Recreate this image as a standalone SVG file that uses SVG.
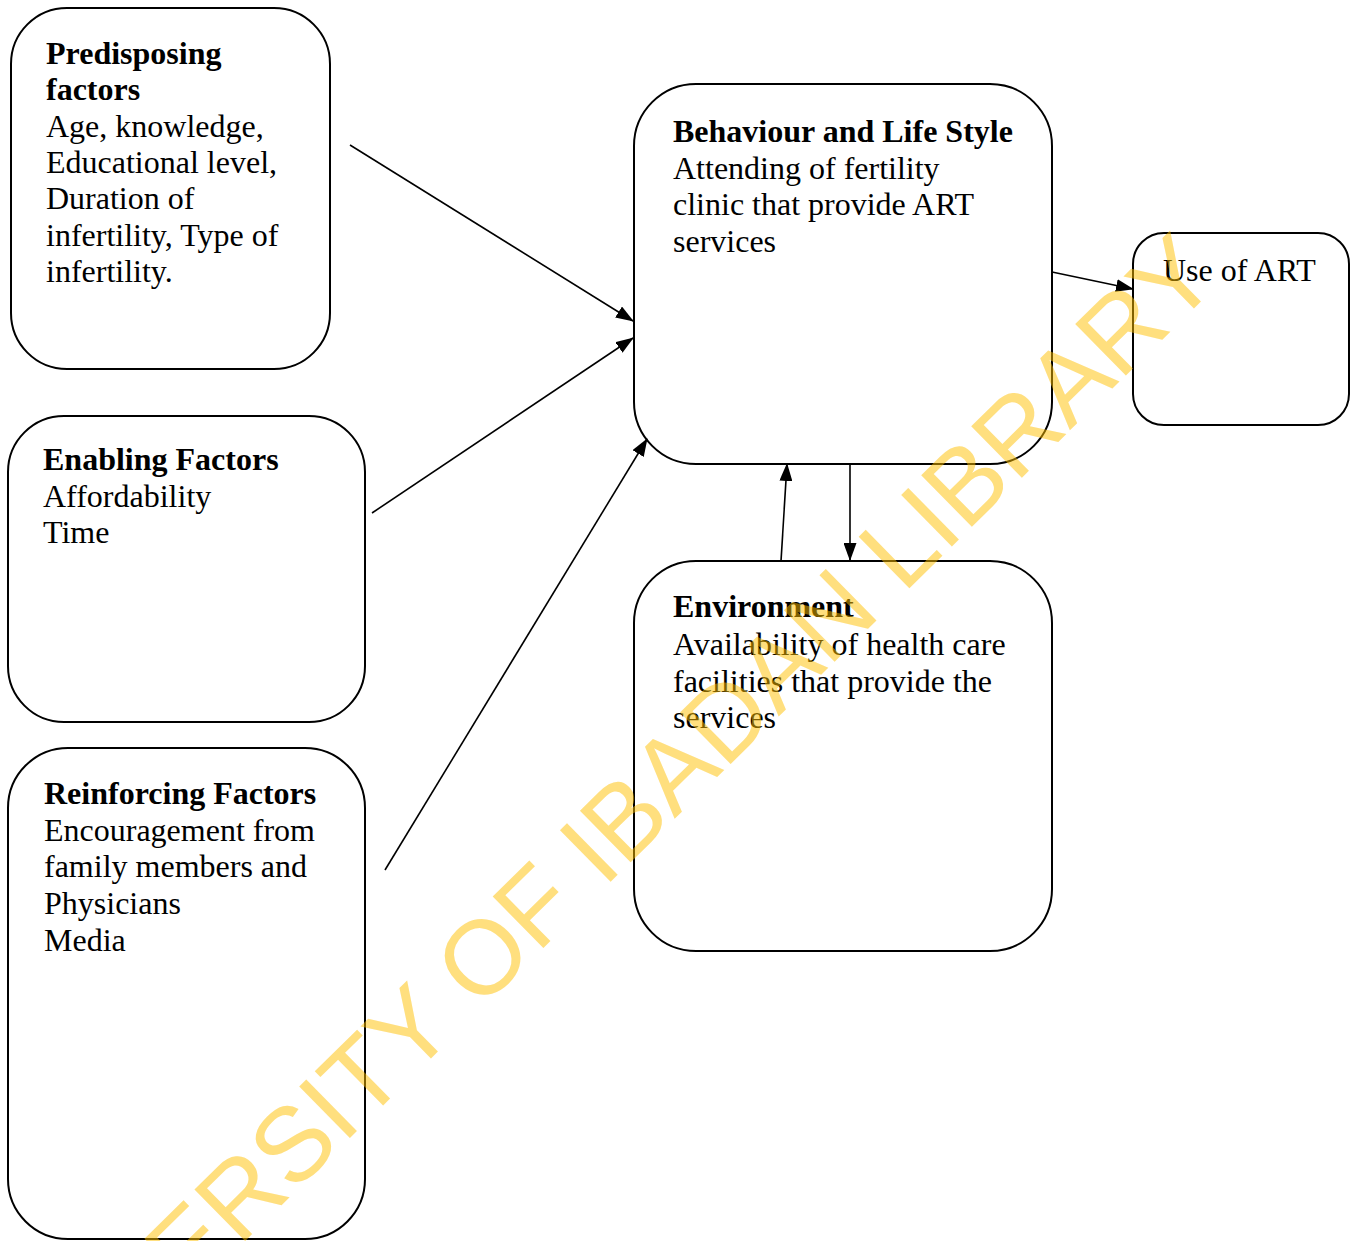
<svg xmlns="http://www.w3.org/2000/svg" width="1357" height="1241" viewBox="0 0 1357 1241">
<style>
.box{fill:none;stroke:#000;stroke-width:2}
.t{font-family:"Liberation Serif","Times New Roman",serif;font-size:32px;fill:#000}
.b{font-weight:bold}
.c{stroke:#000;stroke-width:1.6;fill:none}
.wm{font-family:"Liberation Sans",Arial,sans-serif;font-size:105px;fill:#FFC000;opacity:0.5}
</style>
<defs>
<marker id="ah" markerUnits="userSpaceOnUse" markerWidth="18" markerHeight="13" refX="17" refY="6.5" orient="auto">
<path d="M0,0 L18,6.5 L0,13 Z" fill="#000"/>
</marker>
</defs>
<rect width="1357" height="1241" fill="#fff"/>
<g id="predisposing">
<rect class="box" x="11" y="8" width="319" height="361" rx="56" ry="56"/>
<text class="t"><tspan class="b" x="46" y="64">Predisposing</tspan><tspan class="b" x="46" y="100">factors</tspan><tspan x="46" y="137">Age, knowledge,</tspan><tspan x="46" y="173">Educational level,</tspan><tspan x="46" y="209">Duration of</tspan><tspan x="46" y="246">infertility, Type of</tspan><tspan x="46" y="282">infertility.</tspan></text>
</g>
<g id="enabling">
<rect class="box" x="8" y="416" width="357" height="306" rx="56" ry="56"/>
<text class="t"><tspan class="b" x="43" y="470">Enabling Factors</tspan><tspan x="43" y="507">Affordability</tspan><tspan x="43" y="543">Time</tspan></text>
</g>
<g id="reinforcing">
<rect class="box" x="8" y="748" width="357" height="491" rx="60" ry="60"/>
<text class="t"><tspan class="b" x="44" y="804">Reinforcing Factors</tspan><tspan x="44" y="841">Encouragement from</tspan><tspan x="44" y="877">family members and</tspan><tspan x="44" y="914">Physicians</tspan><tspan x="44" y="951">Media</tspan></text>
</g>
<g id="behaviour">
<rect class="box" x="634" y="84" width="418" height="380" rx="62" ry="62"/>
<text class="t"><tspan class="b" x="673" y="142">Behaviour and Life Style</tspan><tspan x="673" y="179">Attending of fertility</tspan><tspan x="673" y="215">clinic that provide ART</tspan><tspan x="673" y="252">services</tspan></text>
</g>
<g id="use-of-art">
<rect class="box" x="1133" y="233" width="216" height="192" rx="31" ry="31"/>
<text class="t" x="1163" y="281">Use of ART</text>
</g>
<g id="environment">
<rect class="box" x="634" y="561" width="418" height="390" rx="62" ry="62"/>
<text class="t"><tspan class="b" x="673" y="617">Environment</tspan><tspan x="673" y="655">Availability of health care</tspan><tspan x="673" y="692">facilities that provide the</tspan><tspan x="673" y="728">services</tspan></text>
</g>
<g id="connectors">
<line class="c" x1="350" y1="145" x2="633" y2="321" marker-end="url(#ah)"/>
<line class="c" x1="372" y1="513" x2="633" y2="338" marker-end="url(#ah)"/>
<line class="c" x1="385" y1="870" x2="647" y2="439" marker-end="url(#ah)"/>
<line class="c" x1="1052" y1="272" x2="1133" y2="289" marker-end="url(#ah)"/>
<line class="c" x1="781" y1="561" x2="787" y2="464" marker-end="url(#ah)"/>
<line class="c" x1="850" y1="464" x2="850" y2="560" marker-end="url(#ah)"/>
</g>
<text class="wm" transform="translate(10,1472) rotate(-44.5)">UNIVERSITY OF IBADAN LIBRARY</text>
</svg>
